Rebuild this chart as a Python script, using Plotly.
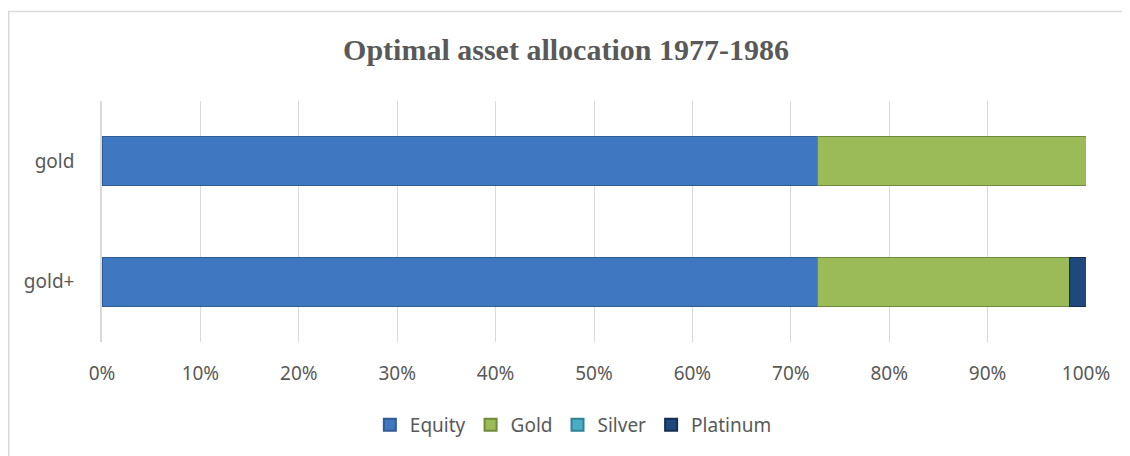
import plotly.graph_objects as go

categories = ["gold", "gold+"]
equity = [0.727, 0.727]
gold = [0.273, 0.256]
silver = [0.0, 0.0]
platinum = [0.0, 0.017]

series = [
    ("Equity", equity, "#3F78C0", "#2F5C95"),
    ("Gold", gold, "#9BBB59", "#6F8A3A"),
    ("Silver", silver, "#4BACC6", "#2F8298"),
    ("Platinum", platinum, "#1F497D", "#142F52"),
]

# page is offset by 8px body margin; figure coords = page coords - 8
W, H = 1122, 448
L, R, T, B = 94, 1078, 93, 334

fig = go.Figure()
for name, vals, col, edge in series:
    fig.add_trace(go.Bar(
        name=name, y=categories, x=vals, orientation="h",
        marker=dict(color=col, line=dict(color=edge, width=1)),
        width=0.41,
    ))

fig.update_layout(
    barmode="stack",
    width=W, height=H,
    margin=dict(l=L, r=W - R, t=T, b=H - B),
    plot_bgcolor="white", paper_bgcolor="white",
    title=dict(text="<b>Optimal asset allocation 1977-1986</b>",
               x=(566 - 8) / W, xanchor="center", y=1 - (49 - 8) / H, yanchor="middle",
               font=dict(family="Liberation Serif", size=30, color="#595959")),
    font=dict(family="Noto Sans", size=19, color="#595959"),
    legend=dict(orientation="h", x=0.479, xanchor="center",
                y=(B - (425 - 8)) / (B - T), yanchor="middle",
                font=dict(size=19, color="#595959"), traceorder="normal",
                itemwidth=30, itemsizing="constant"),
    showlegend=True,
)
fig.update_xaxes(range=[0, 1], dtick=0.1, tickformat=".0%", showgrid=True,
                 gridcolor="#D9D9D9", gridwidth=1.2, zeroline=False,
                 ticks="", tickfont=dict(size=19, color="#595959"), ticklabelstandoff=18)
fig.update_yaxes(autorange="reversed", showline=True, linecolor="#D9D9D9", linewidth=1.5,
                 ticks="", tickfont=dict(size=19, color="#595959"), ticklabelstandoff=22)

fig.add_shape(type="rect", xref="paper", yref="paper",
              x0=(0.75 - L) / (R - L), x1=1.2, y0=-1.0, y1=(B - 3.5) / (B - T),
              line=dict(color="#D9D9D9", width=1.5), layer="below")

fig.write_html("out.html")
